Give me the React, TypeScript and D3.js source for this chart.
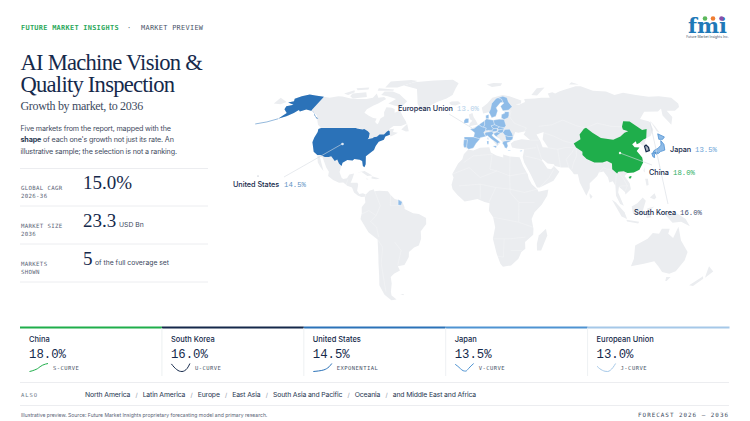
import React from "react";
import * as d3 from "d3";

type P = [number, number];
const NAVY = "#15294b", GREEN = "#1fae4b", BLUE = "#2b72b8", MID = "#4e93d2", LIGHT = "#8fbce8", LAND = "#ebedf0";
const SANS = "Inter, sans-serif", SERIF = "'Liberation Serif', serif", MONO = "'Liberation Mono', monospace", DMONO = "'DejaVu Sans Mono', monospace";

// market cards
const markets = ["China", "South Korea", "United States", "Japan", "European Union"];
const rates = ["18.0%", "16.0%", "14.5%", "13.5%", "13.0%"];
const shapes = ["S-CURVE", "U-CURVE", "EXPONENTIAL", "V-CURVE", "J-CURVE"];
const colours = [GREEN, NAVY, BLUE, MID, "#a5c8e8"];
const sparkChina = [0, 0.08, 0.2, 0.35, 0.6, 0.8, 0.92, 1];
const sparkKorea = [0.95, 0.55, 0.25, 0.05, 0, 0.1, 0.4, 1];
const sparkUS = [0, 0.03, 0.07, 0.12, 0.2, 0.35, 0.6, 1];
const sparkJapan = [0.9, 0.65, 0.35, 0.1, 0.05, 0.35, 0.7, 1];
const sparkEU = [0.65, 0.35, 0.15, 0.03, 0, 0.15, 0.5, 1];
const sparks = [sparkChina, sparkKorea, sparkUS, sparkJapan, sparkEU];
const also = ["North America", "Latin America", "Europe", "East Asia", "South Asia and Pacific", "Oceania", "and Middle East and Africa"];

// left stats
const statLabels = [["GLOBAL CAGR", "2026-36"], ["MARKET SIZE", "2036"], ["MARKETS", "SHOWN"]];
const statValues = ["15.0%", "23.3", "5"];
const statUnits = ["", "USD Bn", "of the full coverage set"];

// land
const northAmerica: P[] = [[-168,65.6],[-164,66.5],[-166,68.3],[-162,70],[-156.5,71.3],[-150,70.5],[-141,69.7],[-135,69],[-128,70],[-124,69.8],[-115,68.5],[-108,68],[-100,68],[-95,69],[-94,72],[-90,69],[-85,69.5],[-82,68],[-87,65],[-90,63.5],[-94,61],[-94.5,58.8],[-90,57],[-85,55.3],[-82,55],[-82,52.8],[-79.5,51.3],[-79,52],[-78.8,55],[-76.5,56.5],[-78,59],[-78,62.4],[-73,62],[-70,61],[-69,58.8],[-65,60.2],[-61,56.5],[-57,53],[-56,51.7],[-60,50.2],[-66,50.2],[-69,48],[-65,48.5],[-65,46.5],[-61,46],[-64,44.5],[-66,43.8],[-66.9,44.8],[-70,43.7],[-70.5,41.8],[-74,40.5],[-75.5,38],[-76,35.5],[-78,34],[-81,31.8],[-80,27],[-80.5,25.2],[-81.8,26],[-83,29],[-85,29.7],[-89,30.2],[-90,29.2],[-94,29.6],[-97,27.9],[-97.5,25],[-97.8,22.3],[-95.8,19],[-94.5,18.2],[-91.8,18.6],[-90.5,20.8],[-87.2,21.4],[-88,18],[-88.8,15.8],[-84,15.8],[-83.3,14.8],[-83.7,11],[-82,9],[-79.5,9.5],[-77.4,8.7],[-78,7.4],[-80.5,7.3],[-83,8.2],[-85.8,10],[-87.5,13],[-91,14],[-94,16],[-97,15.8],[-101.5,17.6],[-105.5,20],[-105.5,22.5],[-108,25],[-112.5,31],[-114.7,31.5],[-112.5,28],[-109.5,23],[-112,25],[-115,28],[-117,32.5],[-120.5,34.5],[-122.5,37.7],[-124.3,40.3],[-124.5,43],[-124,46.5],[-124.7,48.3],[-123,49],[-127,51],[-130,54],[-133,57],[-137,58.7],[-140,59.8],[-146,60.8],[-150,59.5],[-152,60.5],[-154,58.5],[-158,56.5],[-163,54.8],[-160,58.5],[-162,59.5],[-165,61],[-166,63],[-161,64]];
const southAmerica: P[] = [[-77.4,8.7],[-75,11],[-72,12],[-71.5,10.8],[-68,11],[-62,10.7],[-60,8.5],[-57,6],[-52,5],[-50,1],[-50,0],[-44,-2.5],[-40,-3],[-35,-5.5],[-35,-9],[-39,-13.5],[-39,-18],[-41,-22],[-44.5,-23.2],[-48.5,-26],[-49,-29],[-53,-33.8],[-58,-34.5],[-57,-37],[-62,-39],[-65,-41],[-65.5,-45],[-68,-50],[-68.5,-52.5],[-65.5,-55],[-70,-55.5],[-74,-52],[-75.5,-46],[-73.5,-40],[-72,-33],[-71,-28],[-70,-18.5],[-76,-14],[-81,-6],[-80,-2.5],[-80,1],[-77.5,4],[-78,7]];
const africa: P[] = [[-5.8,35.8],[-2,35.2],[3,36.9],[10,37.3],[11,34],[15,32.3],[20,31],[20,32.8],[25,31.7],[32,31.2],[32.5,30],[34,26],[37,21],[37.5,18.5],[39.5,15],[43.2,12],[44,10.5],[51,11.8],[50,8],[46,2.5],[41,-2],[39,-6],[40.5,-12],[40.5,-15.5],[35,-20],[35.5,-24],[32.8,-26],[31,-30],[26,-34],[20,-34.8],[18,-33],[15,-27],[12,-18],[13.5,-11],[12,-5],[9,-1],[9.5,3.5],[6,4.3],[1,6],[-4,5.2],[-8,4.5],[-13,8.5],[-16.5,12],[-17.3,14.7],[-16,19],[-17,21],[-13,27.5],[-10,30],[-9,33]];
const eurasia: P[] = [[5,62],[10,65],[15,69],[25,71],[31,70],[41,67],[40,65],[35,64.5],[38,64],[44,66],[44,68],[54,68.5],[60,69],[68,69],[68,72],[73,73],[75,72],[80,73.5],[87,75],[100,77.5],[105,77.5],[113,74],[125,73.5],[130,71],[140,72.5],[150,71],[160,69.7],[170,70],[179.9,69],[179.9,65],[177,62.5],[170,60],[163,60],[163,56],[157,51],[156,57],[160,61.5],[155,59.5],[143,59.3],[135,54.7],[141,53],[140,48],[135,44],[131,42.8],[128,40],[129.4,37],[129,35.2],[126.3,34.5],[126.7,37.8],[125,39.7],[121.5,39],[121.7,40.8],[118,39],[119,37.3],[122.5,37],[119.5,35],[121.9,31],[121.5,28],[117.5,23.7],[113,22],[108.5,21.7],[106,20],[108.8,15.5],[109.2,12],[105,8.7],[104.8,10.3],[100.9,13.4],[100,10],[103.5,2],[101,3],[98.3,8],[98.5,14],[97,16.7],[94.5,16],[94,19],[91.5,22.7],[88,22],[86.5,20],[80.5,15.5],[80.2,12.5],[77.5,8],[73.5,16],[72.8,21],[70,21],[69,22.5],[66.8,25],[61.5,25],[57,26],[56.5,27],[52,27.5],[48.7,30],[48,29.5],[50,26.5],[51.5,24.5],[54,24],[56.3,26],[59.8,22.5],[55,17],[45,13],[43,13],[39,21],[35,28],[34.3,31.3],[36,36],[30.5,36.5],[27,37],[26.3,39.5],[29,41],[35,42],[41.5,41.5],[37,45],[39,47],[33,46],[30.7,46.5],[28,42],[26,40.7],[23.5,40],[24,38],[22.5,36.5],[19.5,41],[13.5,45.7],[12.3,44.5],[18.5,40],[16,38],[12,42],[8.7,44.4],[3.3,43],[0,39.5],[-2,36.8],[-5.5,36],[-9,37],[-9.3,43],[-1.5,43.5],[-1,46],[-4.7,48.3],[1.5,50.5],[4,52],[8,54],[8.2,57],[10.8,56],[10,54.5],[14,54],[21,55],[21.5,57.5],[24.5,58.5],[30,60],[23,60],[21.5,63],[25,65.5],[22,65.8],[17.5,62],[18.5,60],[16.5,56.5],[13,55.5],[11,59],[6,58.2]];
const chukotka: P[] = [[-179.9,69],[-175,67.5],[-170,66],[-173,64.4],[-179.9,65]];
const greenland: P[] = [[-73,78.2],[-65,81],[-45,82.5],[-25,83.3],[-18,80],[-20,76],[-22,71],[-27,68.5],[-35,66],[-42,62.5],[-44,60],[-48,61],[-52,65],[-54,69],[-58,75.5]];
const australia: P[] = [[114,-22],[122,-18],[125,-14.5],[129.5,-15],[131,-12],[136.5,-12],[136,-15],[140,-17.5],[142.5,-10.8],[146,-19],[153,-26],[153,-31],[150,-37.5],[146,-39],[140,-38],[136,-35],[131,-31.5],[124,-33],[115,-34.5],[115.5,-30]];
const islands: P[][] = [
  [[-80,73.5],[-72,71.5],[-67,69],[-62,66.5],[-65,62.5],[-72,63.5],[-78,65],[-73,68],[-82,70],[-89,71],[-88,73.5]],
  [[-117,72],[-105,73],[-101,69.5],[-113,68.5],[-117,70]],
  [[-125,72],[-118,74.5],[-116,73],[-120,71]],
  [[-90,76.5],[-78,76.5],[-62,82],[-70,83],[-90,81.5]],
  [[-96,76],[-80,75],[-80,74],[-95,74]],
  [[-118,76],[-106,76.5],[-105,75],[-115,74.5]],
  [[-59,48],[-55.5,51.5],[-52.8,47],[-55,46.8]],
  [[-85,22],[-80,23],[-74,20.2],[-77.5,19.9],[-82,22.4]],
  [[-74.3,19.8],[-68.5,18.5],[-71,18],[-74.4,18.4]],
  [[-78.4,18.4],[-76.3,18.1],[-77.5,17.8]],
  [[-24,65.5],[-22,66.4],[-16,66.5],[-13.5,65],[-18,63.5],[-22,63.9]],
  [[-5.5,50],[1.5,51.2],[0,53.5],[-2,56],[-3,58.6],[-6,57.5],[-5,54.5],[-3,53.5],[-5,52]],
  [[11,79],[16,77],[25,78],[27,80],[18,80.3]],
  [[52,71],[57,70.5],[68,76.5],[60,76]],
  [[95,79],[100,79],[105,79],[100,81]],
  [[142,54],[143,50],[143.5,46],[142,47],[142,51]],
  [[79.8,9.5],[81.8,7.5],[80.5,6],[79.8,7.5]],
  [[95.3,5.6],[98,4],[104,-2],[106,-6],[102,-4.5]],
  [[105.5,-6.5],[114.5,-7.7],[114,-8.7],[106,-7.5]],
  [[109,1.5],[113,3.5],[117,7],[119,5],[117.5,1],[116,-4],[110,-3]],
  [[119.5,-5.5],[120,0.5],[125,1.5],[121,-1],[123,-5]],
  [[131,-1],[135,-3.2],[141,-2.7],[147,-6],[150.5,-10.5],[144,-7.7],[138,-8.3],[133,-4]],
  [[120.3,18.3],[122.3,18.3],[122,14.5],[120.5,14]],
  [[122,7],[125.5,9.5],[126.5,7],[125,5.7]],
  [[120.2,23],[121.6,25.2],[121,22]],
  [[49.3,-12],[50.5,-16],[47,-25],[44,-25],[43.5,-21],[44.5,-16]],
  [[145,-41],[148.3,-41],[147,-43.5],[146,-43.5]],
  [[173,-34.5],[178.3,-37.7],[175,-41.5],[174,-39]],
  [[172.7,-40.6],[174,-42],[170,-46.5],[166.5,-46],[171,-42]],
  [[-61,-51.5],[-58,-51.5],[-59,-52.3]],
];
const caspian: P[] = [[47,45],[53,46.5],[51,42],[54,37],[50,37.3],[49,41]];
const borderLines: P[][] = [
  [[-123,49],[-95,49],[-89.6,48]],[[-141,69.7],[-141,60.2]],
  [[-117,32.5],[-106.5,31.8],[-97.2,25.9]],[[-92,14.5],[-91,18]],
  [[-72,12],[-67,2],[-70,-4],[-74,-7.5],[-70,-11],[-69,-17]],[[-70,-18.5],[-67,-23],[-70,-33],[-72,-50]],[[-60,8.5],[-60,2],[-52,2]],[[-58,-20],[-54,-25],[-58,-34]],[[-80,-3],[-75,-1],[-70,-4]],
  [[-9,28],[-2,32],[12,33]],[[12,33],[10,24],[15,23],[24,20],[25,31.7]],[[24,20],[37,22]],[[-17,21],[-5,25],[3,19],[15,23]],[[-12,14],[3,15],[14,13],[24,12],[34,10],[43,12]],[[3,6],[3,15]],[[14,13],[9,4]],[[24,20],[24,10],[30,4],[41,4]],[[12,-5],[30,-8],[40,-11]],[[30,4],[30,-8]],[[12,-18],[24,-18],[35,-17]],[[20,-18],[20,-29],[16,-28.5]],[[25,-25],[33,-25]],
  [[30,60],[28,56],[31,52],[40,49],[38,47]],[[41.5,41.5],[48,41.5]],[[45,37],[36,36]],[[46,39],[48,30]],[[36,32],[46,30],[56,25]],[[45,13],[52,19],[56,24]],[[61,25],[61,36],[67,37],[74,37]],[[53,37],[61,36]],[[53,46],[60,44],[67,41],[74,39.5]],[[50,50],[61,51],[71,54],[80,50.5],[87,49]],[[87.5,49.2],[98,52],[108,50],[116.5,49.8]],[[67,25],[66,30],[71,34],[74,37]],[[69,24],[71,28],[74,32],[75,37]],[[81,30],[88,27],[92,28],[97,28]],[[88,22],[92,25],[94,24]],[[94,24],[98,24]],[[98.5,14],[100,20],[101,21.5]],[[102,22.5],[105,18],[107,14],[105,11]],[[100.9,13.4],[103,14],[107,14]],
];
const usa: P[] = [[-124.7,48.3],[-123,49],[-95.2,49],[-94.6,48.7],[-89.6,48],[-88.4,48.3],[-84.9,46.9],[-83,45.8],[-82.5,43],[-83,42],[-79,42.8],[-79,43.3],[-76.5,43.6],[-75,45],[-71.5,45],[-70,46.7],[-69,47.4],[-67.8,47],[-66.9,44.8],[-70,43.7],[-70.5,41.8],[-74,40.5],[-75.5,38],[-76,35.5],[-78,34],[-81,31.8],[-80,27],[-80.5,25.2],[-81.8,26],[-83,29],[-85,29.7],[-89,30.2],[-90,29.2],[-94,29.6],[-97,27.9],[-97.2,25.9],[-99.5,27.5],[-101.4,29.8],[-103,29],[-104.8,30.5],[-106.5,31.8],[-108.2,31.4],[-111,31.3],[-114.7,32.5],[-117,32.5],[-120.5,34.5],[-122.5,37.7],[-124.3,40.3],[-124.5,43],[-124,46.5]];
const alaska: P[] = [[-168,65.6],[-164,66.5],[-166,68.3],[-162,70],[-156.5,71.3],[-150,70.5],[-141,69.7],[-141,60.2],[-137.5,59],[-133,56],[-130,55],[-131.5,55],[-135,57],[-137,58.7],[-140,59.8],[-146,60.8],[-150,59.5],[-152,60.5],[-154,58.5],[-158,56.5],[-163,54.8],[-160,58.5],[-162,59.5],[-165,61],[-166,63],[-161,64]];
const aleutians: P[] = [[-163,54.8],[-170,52.8],[-178,51.5]];
const china: P[] = [[74,39.5],[80,42],[80.5,45],[85.5,48.5],[87.5,49.2],[91,46],[96,42.8],[105,41.8],[111.5,43.7],[116,46],[119.5,47],[116,48],[116.5,49.8],[120,53.3],[125,53],[131,47.7],[135,48.3],[131,43],[130.5,42.6],[128,41.7],[124.3,40],[121.5,39],[121.7,40.8],[118,39],[119,37.3],[122.5,37],[119.5,35],[121.9,31],[121.5,28],[117.5,23.7],[113,22],[108.5,21.7],[106,22.8],[102,22.5],[101,21.5],[98,24],[98.7,27.5],[95.5,29],[92,28],[86,28],[81,30.2],[78.5,32.5],[79,34.5],[75,37]];
const hainan: P[] = [[108.7,19.3],[110.5,20],[111,19.5],[109.5,18.2]];
const southKorea: P[] = [[126.3,34.5],[129,35.2],[129.4,37.2],[128.3,38.6],[126.7,37.8]];
const northKorea: P[] = [[124.3,40],[128,41.7],[130.5,42.6],[128,40],[128.3,38.6],[126.7,37.8],[125,38.5]];
const japan: P[][] = [
  [[131,34],[133,35.5],[136,36.5],[139.5,38.5],[141,41.3],[142,39],[140.7,35.5],[137,34.6],[135,33.5]],
  [[140,42],[141.5,45.4],[145.3,43.5],[143,42]],
  [[130,33.5],[132,33.5],[131,31],[130,31.5]],
  [[132.5,34],[134.5,34],[134,33.3],[133,33]],
];
const europeanUnion: P[][] = [
  [[-9.3,41.8],[-6.5,41.8],[-7,37.2],[-9,37],[-9.5,38.8]],
  [[-9.2,43.5],[-1.8,43.4],[3.2,42.4],[0,39.5],[-2,36.8],[-5.5,36],[-7,37.2],[-6.5,41.8],[-8.8,41.9]],
  [[-1.8,43.4],[-1,46],[-4.7,48.4],[-1.5,48.7],[1.5,50.5],[2.5,51],[4.2,50],[8.2,49],[7.5,47.5],[6,46.2],[7.5,43.8],[3.2,43],[3.2,42.4]],
  [[2.5,51],[4,52],[7,53.5],[7,51],[6,49.5],[4.2,50]],
  [[7,53.5],[8.7,54.8],[10,54.5],[14.2,53.9],[15,51],[12,50.3],[13.7,48.6],[13,47.5],[7.5,47.5],[8.2,49],[6,49.5],[7,51]],
  [[8.2,55],[8.2,57],[10.7,57.6],[10.5,55]],
  [[14.2,53.9],[19,54.5],[23,54.3],[24,50.5],[22.5,49.2],[19,49.4],[15,51]],
  [[12,50.3],[15,51],[18.8,49.6],[17,48.7],[13.7,48.6]],
  [[17,48.7],[18.8,49.6],[22.5,49.2],[22,48.4],[18,47.8]],
  [[9.6,47.3],[13,47.5],[13.7,48.6],[17,48.7],[16.5,46.9],[12.5,46.6]],
  [[16.5,46.9],[18,47.8],[22,48.4],[21,46.2],[18.5,45.8]],
  [[21,46.2],[22.8,48],[26.6,48.2],[28.2,45.5],[28.6,43.8],[25,43.7],[22.5,44.3]],
  [[22.5,44.3],[25,43.7],[28.6,43.8],[28,42],[26.3,41.3],[23,41.4]],
  [[20,39.7],[21,40.8],[26.3,41.3],[26,40.7],[23.5,40],[24,38],[22.8,36.5],[21.5,37],[21,38.5]],
  [[13.5,45.5],[16.5,46.5],[19,45.8],[16,44],[18.5,42.5],[15,44]],
  [[7.5,43.8],[6.8,45.8],[8,46.3],[12.5,46.8],[13.7,45.7],[12.3,44.5],[13.5,43.5],[18.5,40.2],[16.5,39.7],[16,38],[15.6,40],[12,42],[8.7,44.4]],
  [[11,59],[12.5,61],[14,65],[18.5,68.5],[20.5,69],[23.5,67.9],[24,65.8],[22,65.6],[17.5,62],[18.5,60],[16.5,56.5],[13,55.5]],
  [[20.5,69],[25,70],[28.5,69],[29,66],[31.5,62.8],[28,60.5],[23,60],[21.5,63],[25,65.3],[24,65.8],[23.5,67.9]],
  [[21,55.5],[21.5,57.5],[24.5,58.5],[24,59.4],[28,59.4],[27.5,57],[26.5,55.5],[23,54.3]],
  [[-10,52],[-6,52.2],[-6,55],[-8.5,55]],
  [[12.5,38],[15.6,38.2],[15,36.7]],[[8.3,41],[9.7,41],[9.5,39],[8.5,39]],[[8.7,43],[9.5,43],[9.3,41.5]],
  [[23.5,35.5],[26.3,35.2],[24.5,34.9]],[[32.5,35],[34.5,35.6],[33.5,34.6]],
  [[-54.5,5.8],[-51.7,4.2],[-52.5,2.2],[-54.5,2.4]],
];

const projection = d3.geoNaturalEarth1().scale(94).translate([476, 209]);
const ring = d3.line<P>().x(p => (projection(p) as P)[0]).y(p => (projection(p) as P)[1]);
const closed = (pts: P[]) => ring(pts) + "Z";
const lands = [northAmerica, southAmerica, africa, eurasia, chukotka, greenland, australia, ...islands];

// map callouts
const calloutNames = ["United States", "European Union", "Japan", "China", "South Korea"];
const calloutRates = ["14.5%", "13.0%", "13.5%", "18.0%", "16.0%"];
const calloutColours = ["#5f93c4", "#b3cfe9", "#6ba3d6", "#2eae63", "#3f4f70"];
const calloutAnchor: P[] = [[233, 187], [398, 111], [670, 152], [649, 175], [634, 215]];
const calloutRateX = [284, 457, 695, 673, 680];

const cardX = d3.scaleBand<string>().domain(markets).range([20, 729.5]);
const statY = d3.scaleBand<string>().domain(statValues).range([168, 282]);

const T = ({ x, y, s, f, c, w, ls, a, children }: any) => (
  <text x={x} y={y} fontSize={s} fontFamily={f} fill={c} fontWeight={w} letterSpacing={ls} textAnchor={a}>{children}</text>
);
const hr = (x1: number, x2: number, y: number, c = "#e7e9ec") => <line x1={x1} x2={x2} y1={y} y2={y} stroke={c} strokeWidth={0.8} />;

function Spark({ i, x }: { i: number; x: number }) {
  const sx = d3.scaleLinear().domain([0, sparks[i].length - 1]).range([x + 9.5, x + 28]);
  const sy = d3.scaleLinear().domain([0, 1]).range([371.5, 363.5]);
  const d = d3.line<number>().x((_, k) => sx(k)).y(v => sy(v)).curve(d3.curveMonotoneX)(sparks[i])!;
  return <path d={d} fill="none" stroke={colours[i]} strokeWidth={1} />;
}

export default function App() {
  return (
    <svg width={750} height={421} viewBox="0 0 750 421" style={{ position: "absolute", left: 0, top: 0, background: "#fff" }}>
      <T x={21} y={29.5} s={6.9} f={DMONO} c="#2aa85a" w={700} ls={0.3}>FUTURE MARKET INSIGHTS</T>
      <T x={127} y={29.5} s={6.9} f={DMONO} c="#4a5568" ls={0.3}>·</T>
      <T x={141} y={29.5} s={6.9} f={DMONO} c="#4a5568" ls={0.3}>MARKET PREVIEW</T>

      <T x={20.5} y={70} s={22.6} f={SERIF} c={NAVY} ls={-0.76}>AI Machine Vision &amp;</T>
      <T x={20.5} y={92} s={22.6} f={SERIF} c={NAVY} ls={-0.76}>Quality Inspection</T>
      <T x={20.5} y={110} s={12} f={SERIF} c="#3c4a60" ls={-0.32}>Growth by market, to 2036</T>
      <T x={20.5} y={130.5} s={7.2} f={SANS} c="#3f4b5e" ls={-0.16}>Five markets from the report, mapped with the</T>
      <text x={20.5} y={142} fontSize={7.2} fontFamily={SANS} fill="#3f4b5e" letterSpacing={-0.16}><tspan fontWeight={700} fill="#2c3a52">shape</tspan> of each one's growth not just its rate. An</text>
      <T x={20.5} y={153.5} s={7.2} f={SANS} c="#3f4b5e" ls={-0.16}>illustrative sample; the selection is not a ranking.</T>

      {hr(20, 208, 168.5)}
      {statValues.map((v, i) => {
        const y0 = statY(v)!;
        return (
          <g key={v}>
            {hr(20, 208, y0 + 38)}
            <T x={21} y={y0 + 21.5} s={5.7} f={DMONO} c="#5a6577" ls={0.35}>{statLabels[i][0]}</T>
            <T x={21} y={y0 + 30} s={5.7} f={DMONO} c="#5a6577" ls={0.35}>{statLabels[i][1]}</T>
            <T x={83} y={y0 + 21} s={19} f={SERIF} c={NAVY}>{v}</T>
            <T x={i === 1 ? 119 : 95} y={y0 + 21} s={6.8} f={SANS} c="#3c4a60">{statUnits[i]}</T>
          </g>
        );
      })}

      {/* map */}
      <g>
        {lands.map((l, i) => <path key={i} d={closed(l)} fill={LAND} />)}
        <path d={closed(caspian)} fill="#fff" />
        {borderLines.map((l, i) => <path key={i} d={ring(l)!} fill="none" stroke="#fff" strokeWidth={0.4} opacity={0.6} />)}
        {europeanUnion.map((l, i) => <path key={i} d={closed(l)} fill={LIGHT} stroke="#fff" strokeWidth={0.3} />)}
        <path d={closed(usa)} fill={BLUE} />
        <path d={closed(alaska)} fill={BLUE} />
        <path d={ring(aleutians)!} fill="none" stroke={BLUE} strokeWidth={0.5} />
        <path d={closed(china)} fill={GREEN} />
        <path d={closed(hainan)} fill={GREEN} />
        <path d={closed(northKorea)} fill={LAND} />
        <path d={closed(southKorea)} fill="#aab2bf" stroke={NAVY} strokeWidth={1.2} />
        {japan.map((l, i) => <path key={i} d={closed(l)} fill={LIGHT} stroke="#3f86cd" strokeWidth={0.7} />)}
      </g>
      {/* callouts */}
      <g stroke="#d7dce3" strokeWidth={0.6}>
        <line x1={342} y1={144} x2={284} y2={177} />
        <line x1={449} y1={114} x2={472} y2={128} />
        <line x1={620} y1={153} x2={652} y2={165} />
        <line x1={650} y1={122} x2={668} y2={204} />
      </g>
      <circle cx={342.5} cy={144} r={1.3} fill="#dfe9f4" />
      <circle cx={466} cy={121} r={1.8} fill={LIGHT} />
      <circle cx={620} cy={153} r={1.2} fill="#e9f6ed" />
      <circle cx={258} cy={176} r={0.5} fill="#8794a6" />
      {calloutNames.map((n, i) => (
        <g key={n}>
          <T x={calloutAnchor[i][0]} y={calloutAnchor[i][1]} s={7.3} f={SANS} c={NAVY} w={500} ls={-0.05}>{n}</T>
          <T x={calloutRateX[i]} y={calloutAnchor[i][1]} s={7.3} f={MONO} c={calloutColours[i]}>{calloutRates[i]}</T>
        </g>
      ))}

      {/* cards */}
      {markets.map((m, i) => {
        const x = cardX(m)!;
        const bw = cardX.bandwidth();
        return (
          <g key={m}>
            <rect x={x} y={326.5} width={bw} height={2} fill={colours[i]} />
            {i > 0 && <line x1={x} x2={x} y1={328} y2={376} stroke="#e9ecef" strokeWidth={0.8} />}
            <T x={x + 9} y={342} s={7.5} f={SANS} c={NAVY} w={500}>{m}</T>
            <T x={x + 9} y={357.5} s={12.3} f={MONO} c={NAVY}>{rates[i]}</T>
            <Spark i={i} x={x} />
            <T x={x + 33} y={370} s={5.5} f={DMONO} c="#4a5568" ls={0.45}>{shapes[i]}</T>
          </g>
        );
      })}

      {hr(20, 729, 382.5)}
      <T x={21} y={396.5} s={5.5} f={DMONO} c="#6a7585" ls={0.9}>ALSO</T>
      <text x={85} y={397} fontSize={6.85} fontFamily={SANS} fill="#26364f" letterSpacing={-0.14}>
        {also.map((a, i) => (
          <React.Fragment key={a}>
            {i > 0 && <tspan dx={5.2} fill="#8a94a3" fontSize={6}>/</tspan>}
            <tspan dx={i > 0 ? 5.2 : 0}>{a}</tspan>
          </React.Fragment>
        ))}
      </text>
      {hr(20, 729, 405.5)}
      <T x={21} y={416.5} s={5.05} f={SANS} c="#5a6577">Illustrative preview. Source: Future Market Insights proprietary forecasting model and primary research.</T>
      <T x={729} y={416.5} s={5.9} f={DMONO} c="#3c4a60" ls={1} a="end">FORECAST 2026 – 2036</T>

      {/* logo */}
      <text x={688} y={33} fontFamily={"'DejaVu Serif', serif"} fontWeight={700} fontSize={20} fill="#1f79b8" textLength={39} lengthAdjust="spacingAndGlyphs">fmi</text>
      <circle cx={705} cy={18.5} r={2.3} fill="#5cb85c" />
      <circle cx={713} cy={18.5} r={2.3} fill="#ef7d32" />
      <circle cx={721.5} cy={18.5} r={2.3} fill="#8a4fa8" />
      <T x={707.5} y={38} s={3.4} f={SANS} c="#4a5568" a="middle">Future Market Insights Inc.</T>
    </svg>
  );
}
